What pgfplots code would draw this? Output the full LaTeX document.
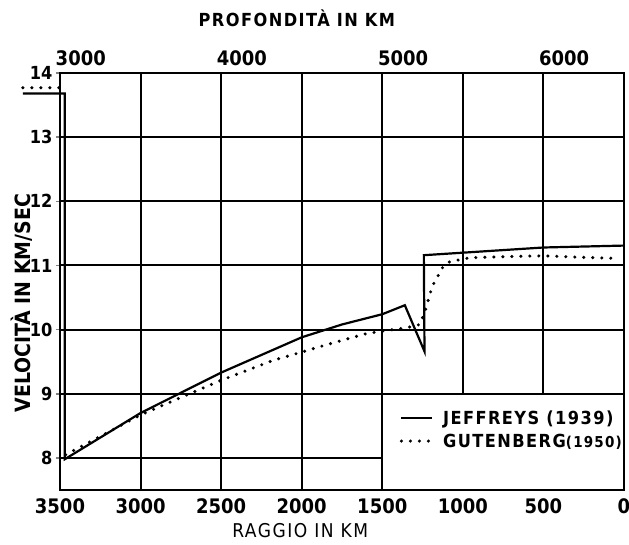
\documentclass[border=0pt]{standalone}
\usepackage{fontspec}
\setmainfont{DejaVu Sans Condensed}
\newfontfamily\spc[LetterSpace=8]{DejaVu Sans Condensed}
\usepackage{pgfplots}
\pgfplotsset{compat=1.18}
\begin{document}
\begin{tikzpicture}
\begin{axis}[
  scale only axis, width=564pt, height=417pt,
  xmin=0, xmax=3500, x dir=reverse, ymin=7.5, ymax=14,
  clip=false,
  axis line style={line width=2pt},
  xtick={0,500,...,3500}, ytick={8,...,14},
  ytick pos=left,
  /pgf/number format/1000 sep={},
  tick label style={/pgf/number format/assume math mode=true},
  xticklabel style={font=\bfseries\fontsize{20}{20}\selectfont, yshift=-1pt},
  yticklabel style={font=\bfseries\fontsize{18}{18}\selectfont},
  xtick style={draw=none},
  ytick style={line width=1.6pt}, tick align=outside, major tick length=4pt,
  unbounded coords=jump,
  legend style={at={(rel axis cs:1.0,0.145)}, anchor=east, draw=none, fill=none,
    font=\spc\bfseries\fontsize{18}{18}\selectfont, row sep=4pt, inner xsep=0pt},
  legend cell align=left,
  legend image code/.code={\draw[#1] (0pt,0pt) -- (31pt,0pt); \path (38pt,0pt);},
]
% grid
\draw[line width=2pt] (axis cs:3000,7.5) -- (axis cs:3000,14);
\draw[line width=2pt] (axis cs:2500,7.5) -- (axis cs:2500,14);
\draw[line width=2pt] (axis cs:2000,7.5) -- (axis cs:2000,14);
\draw[line width=2pt] (axis cs:1500,7.5) -- (axis cs:1500,14);
\draw[line width=2pt] (axis cs:1000,9) -- (axis cs:1000,14);
\draw[line width=2pt] (axis cs:500,9) -- (axis cs:500,14);
\draw[line width=2pt] (axis cs:3500,8) -- (axis cs:1500,8);
\draw[line width=2pt] (axis cs:3500,9) -- (axis cs:0,9);
\draw[line width=2pt] (axis cs:3500,10) -- (axis cs:0,10);
\draw[line width=2pt] (axis cs:3500,11) -- (axis cs:0,11);
\draw[line width=2pt] (axis cs:3500,12) -- (axis cs:0,12);
\draw[line width=2pt] (axis cs:3500,13) -- (axis cs:0,13);

\addplot[black, line width=2.2pt] coordinates {
 (3730,13.68) (3470,13.68) (3470,7.98) (3000,8.70) (2500,9.33) (2000,9.88)
 (1750,10.08) (1500,10.24) (1360,10.38) (1238,9.66) (1242,11.16) (500,11.28) (0,11.31)
};
\addlegendentry{JEFFREYS (1939)}
\addplot[black, line width=3.4pt, line cap=round, dash pattern=on 0pt off 9pt] coordinates {
 (3730,13.77) (3480,13.77) (nan,nan)
 (3465,8.05) (3000,8.67) (2743,8.95) (2500,9.21) (2178,9.52) (2000,9.65)
 (1824,9.78) (1595,9.94) (1434,10.00) (1347,10.03) (1266,10.08) (1229,10.33)
 (1204,10.56) (1185,10.70) (1160,10.81) (1123,10.98) (1080,11.06) (1018,11.09)
 (956,11.12) (700,11.14) (500,11.15) (300,11.13) (40,11.11)
};
\addlegendentry{GUTENBERG{\fontsize{15}{15}\selectfont(1950)}}

\node[font=\spc\bfseries\fontsize{18}{18}\selectfont] at (rel axis cs:0.42,1.132) {PROFONDITÀ IN KM};
\node[font=\bfseries\fontsize{21}{21}\selectfont, rotate=90] at (rel axis cs:-0.067,0.448) {VELOCITÀ IN KM/SEC};
\node[font=\spc\fontsize{19}{19}\selectfont] at (rel axis cs:0.426,-0.098) {RAGGIO IN KM};
\end{axis}
\begin{axis}[
  scale only axis, width=564pt, height=417pt,
  xmin=0, xmax=3500, x dir=reverse, ymin=7.5, ymax=14,
  axis x line*=top, axis y line=none,
  axis line style={line width=2pt},
  xtick={3371,2371,1371,371}, xticklabels={3000,4000,5000,6000},
  xtick style={draw=none},
  xticklabel style={font=\bfseries\fontsize{20}{20}\selectfont, yshift=4pt},
]
\addplot[draw=none] coordinates {(0,8)};
\end{axis}
\pgfresetboundingbox
\path[use as bounding box] (-60pt,-55pt) rectangle (569pt,490pt);
\end{tikzpicture}
\end{document}
